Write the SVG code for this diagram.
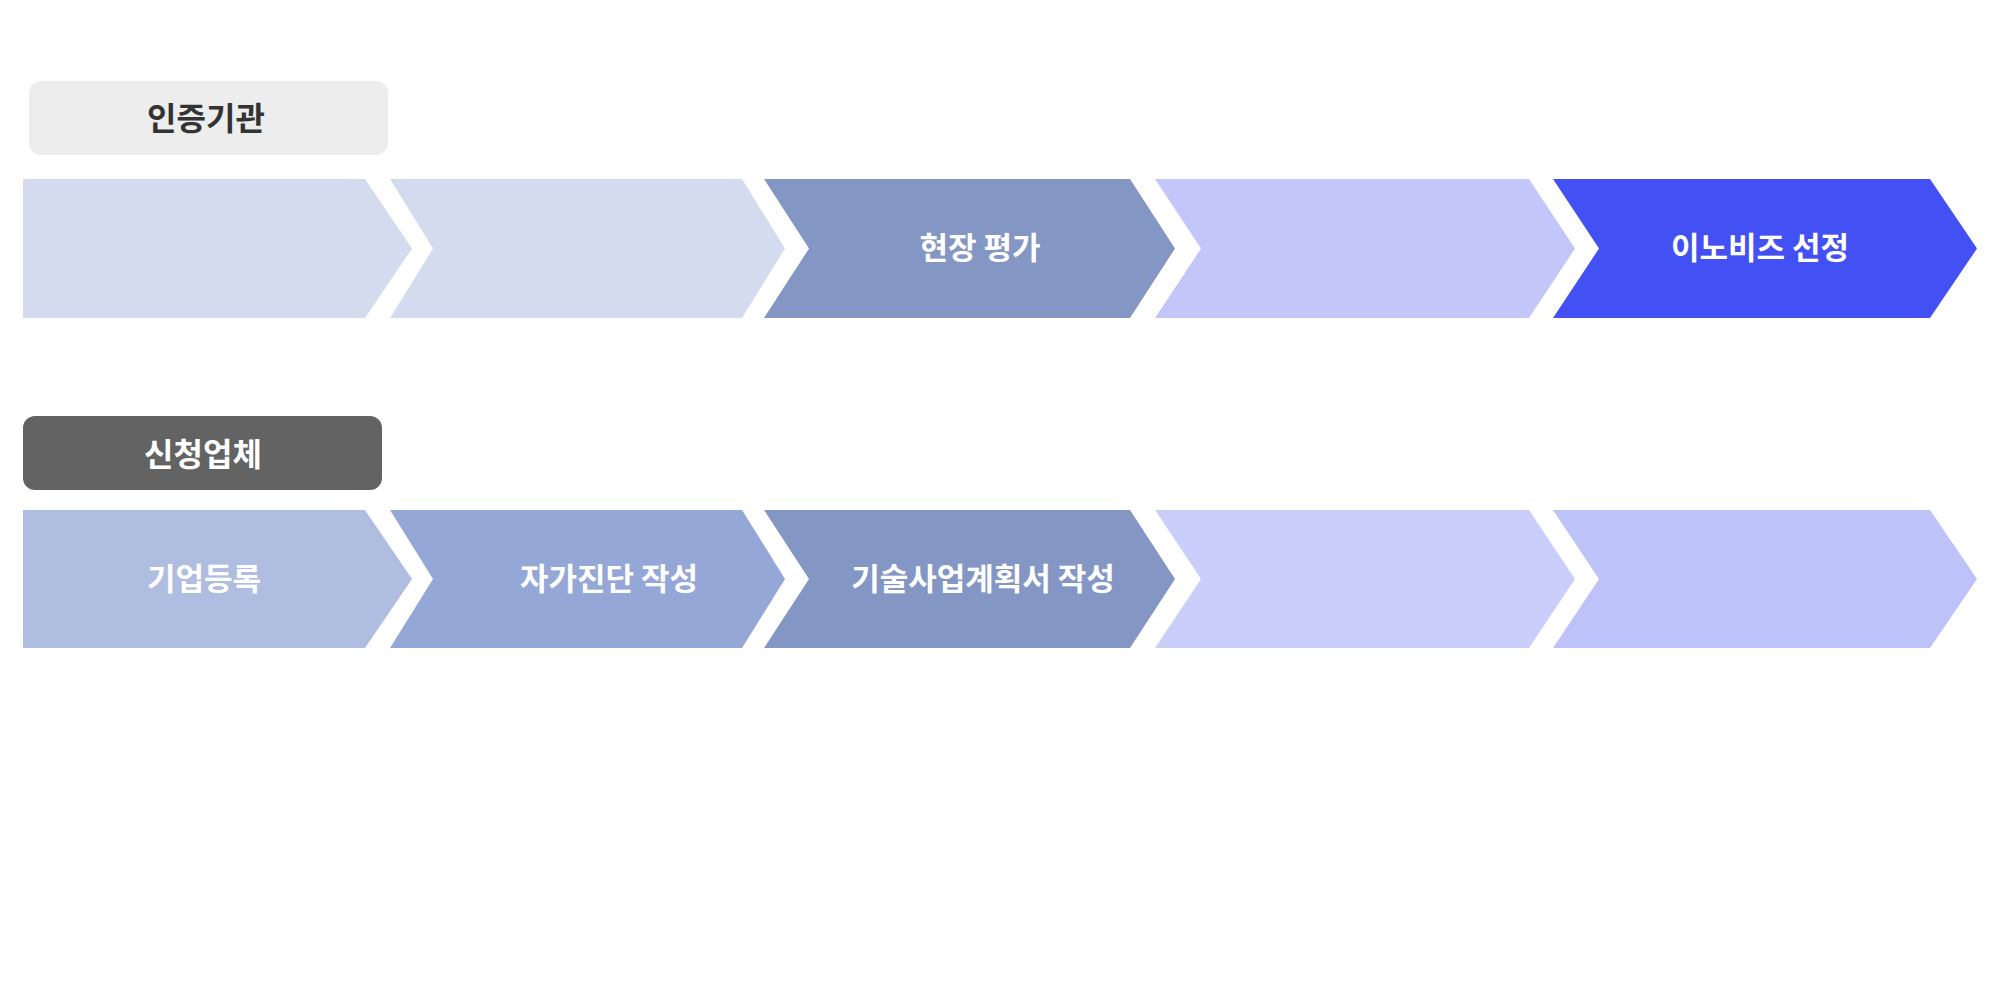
<svg xmlns="http://www.w3.org/2000/svg" width="2000" height="1000" viewBox="0 0 2000 1000">
<style>
.t{font-family:"Noto Sans CJK KR","Noto Sans",sans-serif;font-weight:bold;font-size:31px;text-anchor:middle;fill:#ffffff}
.lb{font-size:32px}
</style>
<rect width="2000" height="1000" fill="#ffffff"/>
<g id="label-cert">
<rect x="29" y="81" width="359" height="74" rx="12" fill="#EDEDED"/>
<text class="t lb" x="206" y="130" style="fill:#333333">인증기관</text>
</g>
<g id="label-applicant">
<rect x="23" y="416" width="359" height="74" rx="12" fill="#636363"/>
<text class="t lb" x="203" y="466">신청업체</text>
</g>
<g id="r1s1"><polygon points="23,179 365,179 412,248.5 365,318 23,318" fill="#D5DBEE"/></g>
<g id="r1s2"><polygon points="390,179 742,179 785,248.5 742,318 390,318 433,248.5" fill="#D5DBEE"/></g>
<g id="r1s3"><polygon points="764,179 1130,179 1175,248.5 1130,318 764,318 809,248.5" fill="#8497C4"/>
<text class="t" x="980" y="259">현장 평가</text></g>
<g id="r1s4"><polygon points="1155,179 1529,179 1575,248.5 1529,318 1155,318 1201,248.5" fill="#C3C6F9"/></g>
<g id="r1s5"><polygon points="1553,179 1930,179 1977,248.5 1930,318 1553,318 1599,248.5" fill="#4250F4"/>
<text class="t" x="1760" y="259">이노비즈 선정</text></g>
<g id="r2s1"><polygon points="23,510 365,510 412,579 365,648 23,648" fill="#AFBDE0"/>
<text class="t" x="204" y="590">기업등록</text></g>
<g id="r2s2"><polygon points="390,510 742,510 785,579 742,648 390,648 433,579" fill="#95A7D6"/>
<text class="t" x="609" y="590">자가진단 작성</text></g>
<g id="r2s3"><polygon points="764,510 1130,510 1175,579 1130,648 764,648 809,579" fill="#8497C4"/>
<text class="t" x="983" y="590">기술사업계획서 작성</text></g>
<g id="r2s4"><polygon points="1155,510 1529,510 1575,579 1529,648 1155,648 1201,579" fill="#CACEFB"/></g>
<g id="r2s5"><polygon points="1553,510 1930,510 1977,579 1930,648 1553,648 1599,579" fill="#BDC2F9"/></g>
<g id="connectors"></g>
</svg>
